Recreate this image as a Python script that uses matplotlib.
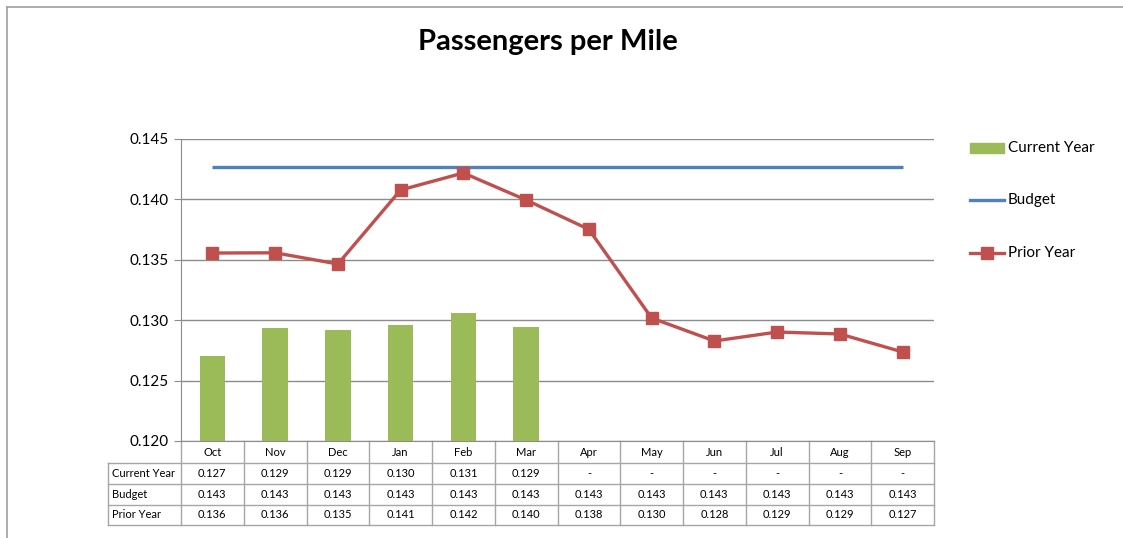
import matplotlib
matplotlib.use("Agg")
import matplotlib.pyplot as plt
import matplotlib.transforms as mtransforms
import numpy as np

months = ["Oct", "Nov", "Dec", "Jan", "Feb", "Mar", "Apr", "May", "Jun", "Jul", "Aug", "Sep"]
current_year = [0.12704, 0.12935, 0.12919, 0.1296, 0.1306, 0.12944, None, None, None, None, None, None]
budget = [0.14268] * 12
prior_year = [0.13556, 0.13558, 0.13465, 0.14078, 0.14219, 0.13995, 0.13752, 0.13018, 0.12828, 0.12902, 0.12886, 0.12737]
yticks = [0.120, 0.125, 0.130, 0.135, 0.140, 0.145]

GREEN = "#9BBB59"
BLUE = "#4F81BD"
RED = "#C0504D"
GRID = "#8C8C8C"
FONT = "Lato"

W, H = 1123, 538
fig = plt.figure(figsize=(W / 100, H / 100), dpi=100)
fig.patch.set_facecolor("white")

# chart border
fig.add_artist(plt.Line2D([7 / W, 7 / W], [0, 1 - 7 / H], color="#A0A0A0", lw=1.2))
fig.add_artist(plt.Line2D([7 / W, 1], [1 - 7 / H, 1 - 7 / H], color="#A0A0A0", lw=1.2))

left, right, top, bottom = 181, 934, 139, 441
ax = fig.add_axes([left / W, 1 - bottom / H, (right - left) / W, (bottom - top) / H])
x = np.arange(len(months))

cy = [np.nan if v is None else v for v in current_year]
ax.bar(x, cy, width=0.41, color=GREEN, zorder=3)
ax.plot(x, budget, color=BLUE, lw=2.4, zorder=4, solid_capstyle="butt")
ax.plot(x, prior_year, color=RED, lw=2.4, marker="s", markersize=9, zorder=5)

ax.set_xlim(-0.5, len(months) - 0.5)
ax.set_ylim(0.120, 0.145)
ax.set_yticks(yticks)
ax.set_yticklabels([f"{t:.3f}" for t in yticks], fontsize=11, family=FONT)
ax.yaxis.grid(True, color=GRID, lw=1)
ax.set_axisbelow(True)
ax.set_xticks([])
for s in ["top", "right"]:
    ax.spines[s].set_visible(False)
ax.spines["left"].set_color(GRID)
ax.spines["bottom"].set_color(GRID)
ax.tick_params(axis="y", length=5, color=GRID, pad=4)

# Data table below axes
trans = mtransforms.blended_transform_factory(ax.transData, ax.transAxes)
ph = bottom - top
rows_px = [441, 463, 484, 505, 525]
ry = [(bottom - r) / ph for r in rows_px]
tcol = "#A6A6A6"
n = len(months)
label_left = -0.5 - (181 - 108) / ((right - left) / n)

# horizontal lines
for i, yy in enumerate(ry[1:]):
    ax.plot([label_left, n - 0.5], [yy, yy], transform=trans, color=tcol, lw=1, clip_on=False)
# vertical lines
for k in range(n + 1):
    ax.plot([k - 0.5, k - 0.5], [ry[0], ry[-1]], transform=trans, color=tcol, lw=1, clip_on=False)
ax.plot([label_left, label_left], [ry[1], ry[-1]], transform=trans, color=tcol, lw=1, clip_on=False)

def fmt(v):
    return "-" if v is None else f"{v:.3f}"

for i, m in enumerate(months):
    ax.text(i, (ry[0] + ry[1]) / 2, m, transform=trans, ha="center", va="center", fontsize=8, family=FONT)
table_rows = [("Current Year", current_year), ("Budget", budget), ("Prior Year", prior_year)]
for r, (name, vals) in enumerate(table_rows):
    yc = (ry[r + 1] + ry[r + 2]) / 2
    ax.text(label_left + 0.06, yc, name, transform=trans, ha="left", va="center", fontsize=8, family=FONT)
    for i, v in enumerate(vals):
        ax.text(i, yc, fmt(v), transform=trans, ha="center", va="center", fontsize=8, family=FONT)

# Title
fig.text(548 / W, 1 - 42 / H, "Passengers per Mile", ha="center", va="center",
         fontsize=21, fontweight="bold", family=FONT)

# Legend (manual, figure coords)
lx0, lx1, tx = 970 / W, 1004 / W, 1008 / W
ly = [148, 200, 253]
fig.add_artist(plt.Rectangle((lx0, 1 - (ly[0] + 5) / H), lx1 - lx0, 10 / H, color=GREEN))
fig.add_artist(plt.Line2D([lx0, lx1], [1 - ly[1] / H] * 2, color=BLUE, lw=2.4))
fig.add_artist(plt.Line2D([lx0, lx1], [1 - ly[2] / H] * 2, color=RED, lw=2.4))
fig.add_artist(plt.Line2D([(lx0 + lx1) / 2], [1 - ly[2] / H], color=RED, marker="s", markersize=9))
for yy, name in zip(ly, ["Current Year", "Budget", "Prior Year"]):
    fig.text(tx, 1 - yy / H, name, ha="left", va="center", fontsize=11, family=FONT)

fig.savefig("out.png", dpi=100)
